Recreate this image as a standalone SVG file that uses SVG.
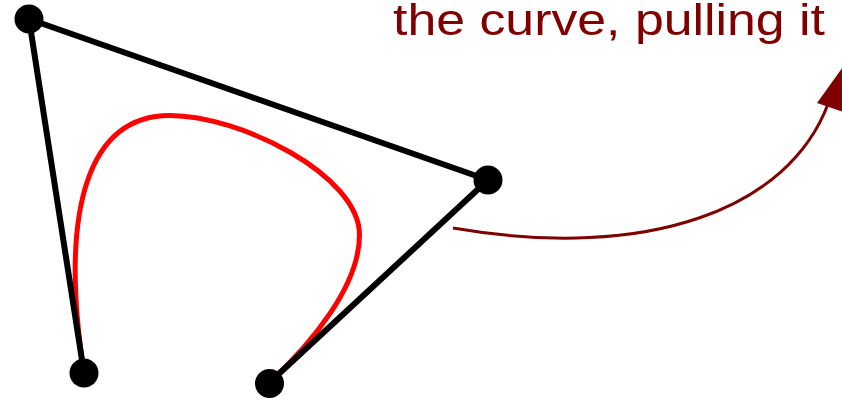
<svg xmlns="http://www.w3.org/2000/svg" width="842" height="403" viewBox="0 0 842 403">
  <style>
    .poly { fill: none; stroke: #000; stroke-width: 6; stroke-linejoin: round; stroke-linecap: round; }
    .curve { fill: none; stroke: #ff0000; stroke-width: 5; }
    .dot { fill: #000; }
    .note { fill: none; stroke: #800000; stroke-width: 3; }
    .head { fill: #800000; }
    .label { font-family: "Liberation Sans", Arial, sans-serif; font-size: 45px; fill: #800000; }
  </style>
  <rect width="842" height="403" fill="#fff"/>
  <g id="bezier-curve">
    <path class="curve" d="M84,373 C58.3,204.9 90,115.5 170,115.5 C240,115.5 359.5,175 359.5,235 C359.5,285 313,342.2 269,383"/>
  </g>
  <g id="connectors">
    <polyline class="poly" points="84,373 29,19 488,180 269,383"/>
    <path class="note" d="M453,228 C650,262 789,208 828,104"/>
    <polygon class="head" points="817,103 845,64 843.5,112"/>
  </g>
  <g id="node-p0"><circle class="dot" cx="84" cy="373" r="14.5"/></g>
  <g id="node-p1"><circle class="dot" cx="29" cy="19" r="14.5"/></g>
  <g id="node-p2"><circle class="dot" cx="488" cy="180" r="14.5"/></g>
  <g id="node-p3"><circle class="dot" cx="269.5" cy="383.5" r="14.5"/></g>
  <g id="label">
    <text class="label" x="393" y="35" textLength="432" lengthAdjust="spacingAndGlyphs">the curve, pulling it</text>
  </g>
</svg>
